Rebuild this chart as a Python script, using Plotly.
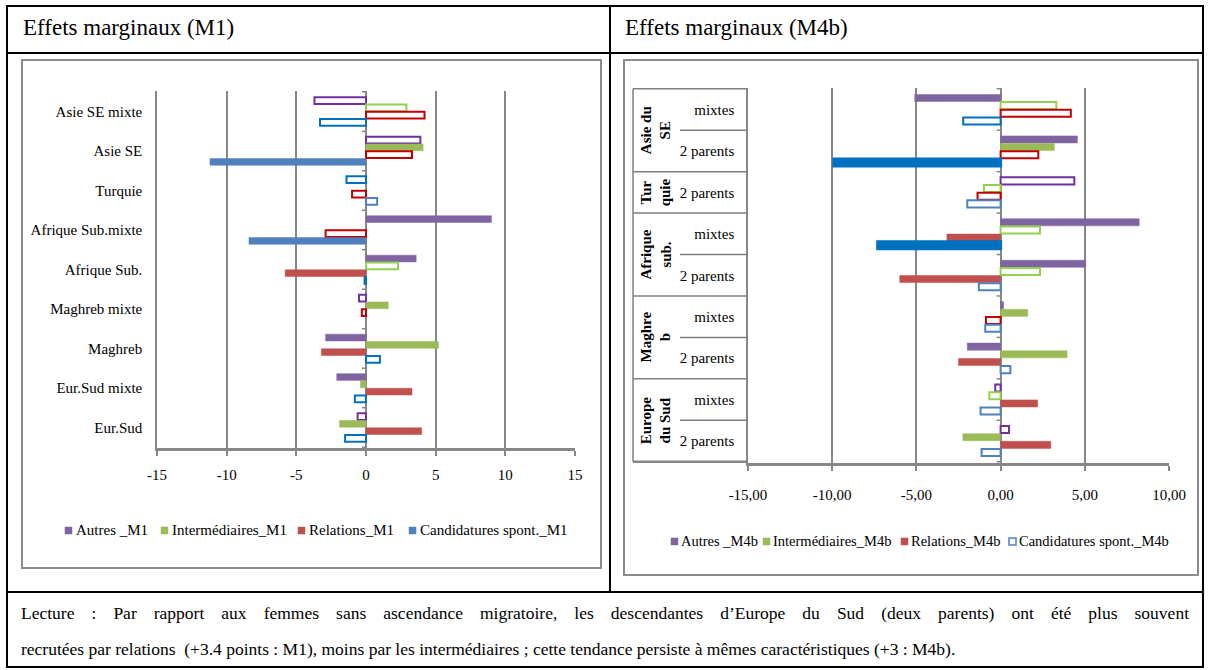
import plotly.graph_objects as go

W, H = 1208, 670


def px(x):
    return x / W


def py(y):
    return 1 - y / H


FONT = "Liberation Serif"

# ---------------- data ----------------
series_m1 = ["Autres _M1", "Intermédiaires_M1", "Relations_M1", "Candidatures spont._M1"]
series_m4b = ["Autres _M4b", "Intermédiaires_M4b", "Relations_M4b", "Candidatures spont._M4b"]

categories_m1 = ["Asie SE mixte", "Asie SE", "Turquie", "Afrique Sub.mixte", "Afrique Sub.",
                 "Maghreb mixte", "Maghreb", "Eur.Sud mixte", "Eur.Sud"]
autres_m1 = [-3.7, 3.9, -1.4, 9.0, 3.6, -0.5, -2.9, -2.1, -0.6]
interm_m1 = [2.9, 4.1, None, None, 2.3, 1.6, 5.2, -0.4, -1.9]
relations_m1 = [4.2, 3.3, -1.0, -2.9, -5.8, -0.3, -3.2, 3.3, 4.0]
cand_m1 = [-3.3, -11.2, 0.8, -8.4, -0.1, None, 1.0, -0.8, -1.5]

groups_m4b = ["Asie du<br>SE", "Tur<br>quie", "Afrique<br>sub.", "Maghre<br>b", "Europe<br>du Sud"]
group_sizes_m4b = [2, 1, 2, 2, 2]
rows_m4b = ["mixtes", "2 parents", "2 parents", "mixtes", "2 parents",
            "mixtes", "2 parents", "mixtes", "2 parents"]
autres_m4b = [-5.1, 4.56, 4.38, 8.23, 5.06, 0.18, -1.98, -0.32, 0.5]
interm_m4b = [3.31, 3.19, -0.99, 2.34, 2.34, 1.61, 3.95, -0.67, -2.24]
relations_m4b = [4.17, 2.24, -1.37, -3.19, -5.99, -0.87, -2.5, 2.2, 2.98]
cand_m4b = [-2.22, -9.9, -1.98, -7.3, -1.29, -0.91, 0.58, -1.19, -1.13]

ticks_m1 = [-15, -10, -5, 0, 5, 10, 15]
ticktext_m1 = ["-15", "-10", "-5", "0", "5", "10", "15"]
ticks_m4b = [-15, -10, -5, 0, 5, 10]
ticktext_m4b = ["-15,00", "-10,00", "-5,00", "0,00", "5,00", "10,00"]

# ---------------- styles (f = filled, o = outlined, ob/o2 = outlined other blue, F = strong fill) ----
style_m1 = [
    ["o", "o", "ob", "f", "f", "o", "f", "f", "o"],
    ["o", "f", "f", "f", "o", "f", "f", "f", "f"],
    ["o", "o", "o", "o", "f", "o", "f", "f", "f"],
    ["o", "f", "o2", "f", "o", "o", "o", "o", "o"],
]
style_m4b = [
    ["f", "f", "o", "f", "f", "f", "f", "o", "o"],
    ["o", "f", "o", "o", "o", "f", "f", "o", "f"],
    ["o", "o", "o", "f", "f", "o", "f", "f", "f"],
    ["ob", "F", "o", "F", "o", "o", "o", "o", "o"],
]
FILL = ["#8064A2", "#9BBB59", "#C0504D", "#4F81BD"]
OUT_M1 = ["#7030A0", "#92D050", "#C00000", "#0070C0"]
OUT_M4B = ["#7030A0", "#92D050", "#C00000", "#4F81BD"]
GRID = "#878787"

# legend layout (pixel positions of the swatches)
legend_m1_x = [65, 161, 298, 409]
legend_m1_y = 530
legend_m4b_x = [671, 763, 901, 1009]
legend_m4b_y = 541
legend_m4b_outlined = [False, False, False, True]


def styled(styles, fill, outline):
    c, lc, lw = [], [], []
    for s in styles:
        if s == "f":
            c.append(fill); lc.append(fill); lw.append(0.5)
        elif s == "F":
            c.append("#0070C0"); lc.append("#0070C0"); lw.append(3)
        elif s == "ob":
            c.append("white"); lc.append("#0070C0"); lw.append(2)
        elif s == "o2":
            c.append("white"); lc.append("#4F81BD"); lw.append(2)
        else:
            c.append("white"); lc.append(outline); lw.append(2)
    return c, lc, lw


fig = go.Figure()

vals_m1 = [autres_m1, interm_m1, relations_m1, cand_m1]
for i, v in enumerate(vals_m1):
    c, lc, lw = styled(style_m1[i], FILL[i], OUT_M1[i])
    fig.add_trace(go.Bar(x=v, y=categories_m1, orientation="h", name=series_m1[i],
                         marker=dict(color=c, line=dict(color=lc, width=lw)),
                         xaxis="x", yaxis="y", showlegend=False, hoverinfo="x+y"))

ids_m4b = []
grp_plain = [g.replace("<br>", " ") for g in groups_m4b]
k = 0
for g, n in zip(grp_plain, group_sizes_m4b):
    for _ in range(n):
        ids_m4b.append(g + " | " + rows_m4b[k])
        k += 1

vals_m4b = [autres_m4b, interm_m4b, relations_m4b, cand_m4b]
for i, v in enumerate(vals_m4b):
    c, lc, lw = styled(style_m4b[i], FILL[i], OUT_M4B[i])
    fig.add_trace(go.Bar(x=v, y=ids_m4b, orientation="h", name=series_m4b[i],
                         marker=dict(color=c, line=dict(color=lc, width=lw)),
                         xaxis="x2", yaxis="y2", showlegend=False, hoverinfo="x+y"))

axis_font = dict(family=FONT, size=15, color="black")

xcommon = dict(showgrid=True, gridcolor=GRID, gridwidth=1.5, zeroline=True,
               zerolinecolor=GRID, zerolinewidth=1.5, showline=True, linecolor=GRID,
               linewidth=2.5, ticks="outside", ticklen=5, tickwidth=2, tickcolor=GRID,
               tickfont=axis_font, fixedrange=True)

fig.update_layout(
    width=W, height=H, margin=dict(l=0, r=0, t=0, b=0, autoexpand=False),
    paper_bgcolor="white", plot_bgcolor="white",
    barmode="group", bargap=0.26, bargroupgap=0.08,
    font=dict(family=FONT, color="black"),
    showlegend=False,
    xaxis=dict(domain=[px(157), px(575)], range=[-15, 15], tickvals=ticks_m1,
               ticktext=ticktext_m1, anchor="y", ticklabelstandoff=6, **xcommon),
    yaxis=dict(domain=[py(448), py(91)], type="category", categoryorder="array",
               categoryarray=categories_m1, autorange="reversed", anchor="x",
               showline=True, linecolor=GRID, linewidth=1.5, ticks="",
               tickfont=axis_font, ticklabelstandoff=10, showgrid=False, fixedrange=True),
    xaxis2=dict(domain=[px(748), px(1169)], range=[-15, 10], tickvals=ticks_m4b,
                ticktext=ticktext_m4b, anchor="y2", ticklabelstandoff=11, **xcommon),
    yaxis2=dict(domain=[py(463), py(88)], type="category", categoryorder="array",
                categoryarray=ids_m4b, tickvals=ids_m4b, ticktext=rows_m4b,
                autorange="reversed", anchor="x2", showline=True, linecolor=GRID,
                linewidth=1.5, ticks="", tickfont=axis_font, ticklabelstandoff=9,
                showgrid=False, fixedrange=True),
)

shapes = []
BLACK = dict(color="black", width=2)
# table frame
shapes.append(dict(type="rect", xref="paper", yref="paper", x0=px(7), x1=px(1203),
                   y0=py(667), y1=py(6), line=BLACK))
shapes.append(dict(type="line", xref="paper", yref="paper", x0=px(7), x1=px(1203),
                   y0=py(53), y1=py(53), line=BLACK))
shapes.append(dict(type="line", xref="paper", yref="paper", x0=px(7), x1=px(1203),
                   y0=py(592), y1=py(592), line=BLACK))
shapes.append(dict(type="line", xref="paper", yref="paper", x0=px(610), x1=px(610),
                   y0=py(592), y1=py(6), line=BLACK))
# chart boxes
GBOX = dict(color="#8c8c8c", width=2)
shapes.append(dict(type="rect", xref="paper", yref="paper", x0=px(22), x1=px(601),
                   y0=py(568), y1=py(60), line=GBOX))
shapes.append(dict(type="rect", xref="paper", yref="paper", x0=px(624), x1=px(1198),
                   y0=py(575), y1=py(60), line=GBOX))

# small tick marks on the zero line at category boundaries
for xr, yr, n in (("x", "y", len(categories_m1)), ("x2", "y2", len(rows_m4b))):
    for b in range(n + 1):
        shapes.append(dict(type="line", xref=xr, yref=yr, xsizemode="pixel", xanchor=0,
                           x0=-4, x1=0, y0=b - 0.5, y1=b - 0.5,
                           line=dict(color=GRID, width=1.5)))

# M4b category table lines
TL = dict(color="#7f7f7f", width=1.5)
n_rows = len(ids_m4b)
group_bounds = []
acc = 0
for n in group_sizes_m4b:
    acc += n
    group_bounds.append(acc)
shapes.append(dict(type="line", xref="paper", yref="y2", x0=px(633), x1=px(748),
                   y0=-0.5, y1=-0.5, line=TL))
shapes.append(dict(type="line", xref="paper", yref="y2", x0=px(633), x1=px(748),
                   y0=n_rows - 0.5, y1=n_rows - 0.5, line=dict(color=GRID, width=2.5)))
shapes.append(dict(type="line", xref="paper", yref="y2", x0=px(633), x1=px(633),
                   y0=-0.5, y1=n_rows - 0.5, line=TL))
for b in range(1, n_rows):
    x0 = px(633) if b in group_bounds else px(680)
    shapes.append(dict(type="line", xref="paper", yref="y2", x0=x0, x1=px(748),
                       y0=b - 0.5, y1=b - 0.5, line=TL))

annotations = []
# manual legends
LEG_FONT1 = dict(family=FONT, size=15, color="black")
LEG_FONT2 = dict(family=FONT, size=14.5, color="black")
for i, name in enumerate(series_m1):
    x = legend_m1_x[i]
    shapes.append(dict(type="rect", xref="paper", yref="paper", x0=px(x), x1=px(x + 7),
                       y0=py(legend_m1_y + 4), y1=py(legend_m1_y - 3),
                       fillcolor=FILL[i], line=dict(color=FILL[i], width=0.5)))
    annotations.append(dict(text=name, xref="paper", yref="paper", x=px(x + 9), y=py(legend_m1_y),
                            xanchor="left", yanchor="middle", showarrow=False, font=LEG_FONT1))
for i, name in enumerate(series_m4b):
    x = legend_m4b_x[i]
    if legend_m4b_outlined[i]:
        sw = dict(fillcolor="white", line=dict(color=FILL[i], width=1.5))
    else:
        sw = dict(fillcolor=FILL[i], line=dict(color=FILL[i], width=0.5))
    shapes.append(dict(type="rect", xref="paper", yref="paper", x0=px(x), x1=px(x + 7),
                       y0=py(legend_m4b_y + 4), y1=py(legend_m4b_y - 3), **sw))
    annotations.append(dict(text=name, xref="paper", yref="paper", x=px(x + 8), y=py(legend_m4b_y),
                            xanchor="left", yanchor="middle", showarrow=False, font=LEG_FONT2))
fig.update_layout(shapes=shapes)

HEAD_FONT = dict(family=FONT, size=23, color="black")
annotations.append(dict(text="Effets marginaux (M1)", xref="paper", yref="paper",
                        x=px(21), y=py(28), xanchor="left", yanchor="middle", showarrow=False,
                        font=HEAD_FONT))
annotations.append(dict(text="Effets marginaux (M4b)", xref="paper", yref="paper",
                        x=px(623), y=py(28), xanchor="left", yanchor="middle", showarrow=False,
                        font=HEAD_FONT))
start = 0
for g, n in zip(groups_m4b, group_sizes_m4b):
    annotations.append(dict(text="<b>" + g + "</b>", xref="paper", yref="y2",
                            x=px(656), y=start + (n - 1) / 2, xanchor="center", yanchor="middle",
                            textangle=-90, showarrow=False,
                            font=dict(family=FONT, size=15, color="black")))
    start += n
TXT_FONT = dict(family=FONT, size=17.5, color="black")
annotations.append(dict(
    text="Lecture : Par rapport aux femmes sans ascendance migratoire, les descendantes d’Europe du Sud (deux parents) ont été plus souvent",
    xref="paper", yref="paper", x=px(19), y=py(613), xanchor="left", yanchor="middle",
    align="left", showarrow=False, font=TXT_FONT))
annotations.append(dict(
    text="recrutées par relations  (+3.4 points : M1), moins par les intermédiaires ; cette tendance persiste à mêmes caractéristiques (+3 : M4b).",
    xref="paper", yref="paper", x=px(19), y=py(649), xanchor="left", yanchor="middle",
    align="left", showarrow=False, font=TXT_FONT))
fig.update_layout(annotations=annotations)

post = """
document.body.style.margin = '0';
document.body.style.overflow = 'hidden';
var gd = document.getElementById('{plot_id}');
function justifyLecture(){
  var ts = gd.querySelectorAll('g.annotation text');
  ts.forEach(function(t){
    var s = t.textContent || '';
    if(s.indexOf('Lecture') === 0){
      t.style.wordSpacing = '0px';
      var len = t.getComputedTextLength();
      var n = (s.match(/ /g) || []).length;
      var target = 1168;
      if(n > 0 && len < target){ t.style.wordSpacing = ((target - len) / n) + 'px'; }
    }
  });
}
justifyLecture();
"""

fig.write_html("out.html", post_script=post, config={"displayModeBar": False})
